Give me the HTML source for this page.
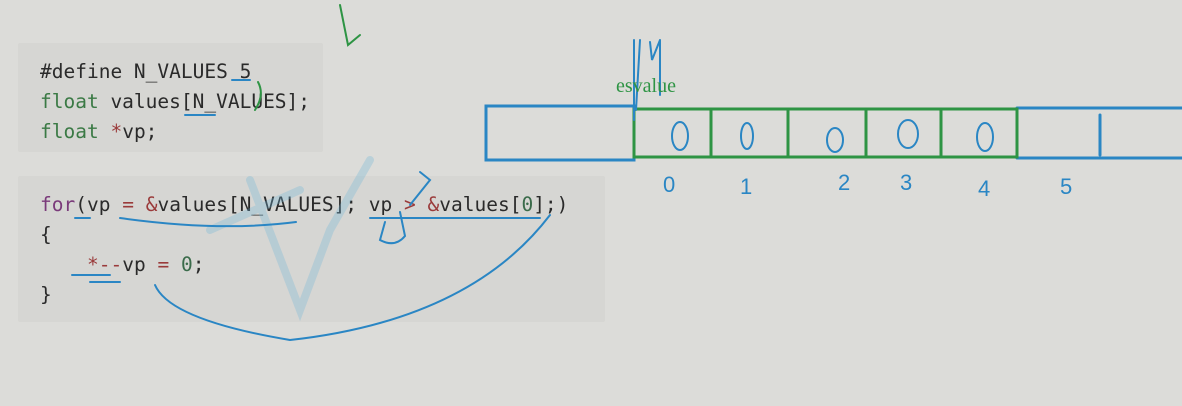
<!DOCTYPE html>
<html><head><meta charset="utf-8"><style>
body{margin:0;width:1182px;height:406px;background:#dcdcd9;overflow:hidden;position:relative;font-family:"DejaVu Sans Mono","Liberation Mono",monospace}
.box{position:absolute;background:#d6d6d3;border-radius:2px}
.code{position:absolute;font-size:19.5px;color:#2a2a2a;white-space:pre;line-height:30px}
.kw{color:#3b7a45}.op{color:#9a3a3a}.num{color:#3a6b4a}.pl{color:#7a3a7a}
svg{position:absolute;left:0;top:0}
</style></head><body>
<div class="box" style="left:18px;top:43px;width:305px;height:109px"></div>
<div class="box" style="left:18px;top:176px;width:587px;height:146px"></div>
<div class="code" style="left:40px;top:57px">#define N_VALUES 5
<span class="kw">float</span> values[N_VALUES];
<span class="kw">float</span> <span class="op">*</span>vp;</div>
<div class="code" style="left:40px;top:190px"><span class="pl">for</span>(vp <span class="op">=</span> <span class="op">&amp;</span>values[N_VALUES]; vp <span class="op">&gt;</span> <span class="op">&amp;</span>values[<span class="num">0</span>];)
{
    <span class="op">*--</span>vp <span class="op">=</span> <span class="num">0</span>;
}</div>
<svg width="1182" height="406" fill="none" stroke-linecap="round">
<g stroke="#6fb6d8" stroke-width="8" opacity="0.3">
<path d="M250 180 L300 310 L330 230 L370 160"/><path d="M210 230 L300 190"/>
</g>
<rect x="486" y="106" width="148" height="54" stroke="#2a86c4" stroke-width="3"/>
<path d="M1017 108 H1182 M1017 158 H1182 M1100 115 V155" stroke="#2a86c4" stroke-width="3"/>
<g stroke="#2e9444" stroke-width="3">
<rect x="634" y="109" width="383" height="48"/>
<path d="M711 109V157M788 109V157M866 109V157M941 109V157"/>
</g>
<path d="M634 40 V120 M640 40 L636 110 M650 42 L652 60 L660 40 M660 40 V95" stroke="#2a86c4" stroke-width="2"/>
<text x="616" y="92" font-family="Liberation Serif" font-size="20" fill="#2e9444" stroke="none">esvalue</text>
<g stroke="#2a86c4" stroke-width="2">
<ellipse cx="680" cy="136" rx="8" ry="14"/><ellipse cx="747" cy="136" rx="6" ry="13"/><ellipse cx="835" cy="140" rx="8" ry="12"/><ellipse cx="908" cy="134" rx="10" ry="14"/><ellipse cx="985" cy="137" rx="8" ry="14"/>
</g>
<g font-family="Liberation Sans" font-size="22" fill="#2a86c4" stroke="none">
<text x="663" y="192">0</text><text x="740" y="194">1</text><text x="838" y="190">2</text><text x="900" y="190">3</text><text x="978" y="196">4</text><text x="1060" y="194">5</text>
</g>
<path d="M340 5 L348 45 L360 35" stroke="#2e9444" stroke-width="2"/>
<path d="M258 82 Q265 95 255 110" stroke="#2e9444" stroke-width="2"/>
<g stroke="#2a86c4" stroke-width="2">
<path d="M232 80 H250 M185 115 H215"/>
<path d="M120 218 Q220 232 296 222"/><path d="M75 218 H90"/>
<path d="M370 218 H540 M385 222 L380 240 Q395 248 405 236 L400 212"/>
<path d="M420 172 L430 180 L410 205"/>
<path d="M550 215 Q470 320 290 340 Q170 320 155 285"/>
<path d="M72 275 H110 M90 282 H120"/>
</g>
</svg>
</body></html>
